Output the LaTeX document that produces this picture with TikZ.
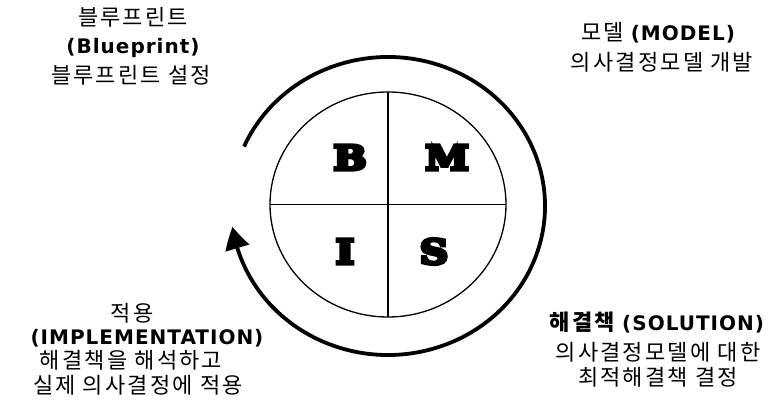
\documentclass[tikz,border=0pt]{standalone}
\usepackage{fontspec}
\setmainfont{Noto Sans CJK KR}[LetterSpace=10]
\newfontfamily\latb{DejaVu Sans}[LetterSpace=5]
\newfontfamily\bigser{DejaVu Serif Bold}[FakeBold=10]
\usetikzlibrary{arrows.meta,bending,calc}
\tikzset{
  kr/.style={inner sep=0pt, font=\fontsize{22}{24}\selectfont},
  letter/.style={inner sep=0pt, font=\bigser\fontsize{34}{38}\selectfont, xscale=1.15},
  cyc/.style={line width=3.8pt, -{Triangle[length=22pt,width=24pt,bend]}},
}
\newcommand{\lb}[1]{{\latb\bfseries\fontsize{20}{22}\selectfont #1}}
\begin{document}
\begin{tikzpicture}[x=1pt,y=1pt]
\useasboundingbox[fill=white] (0,0) rectangle (772,407);
% inner circle
\coordinate (c) at (388,202.5);
\draw[line width=1.3pt] (c) ellipse [x radius=118, y radius=112.5];
\coordinate (vt) at (388,315);
\coordinate (vb) at (388,90);
\coordinate (hl) at (270,202.5);
\coordinate (hr) at (506,202.5);
\draw[line width=1.3pt] (vt) -- (vb);
\draw[line width=1.3pt] (hl) -- (hr);
% letters
\node[letter] (B) at (350,249.5) {B};
\node[letter] (M) at (447,249.5) {M};
\node[letter] (I) at (345,155.5) {I};
\node[letter] (S) at (434,155.5) {S};
% cycle arrow
\coordinate (o) at (388,201);
\draw[cyc] ($(o)+(156.5:157 and 149)$) arc[start angle=156.5, end angle=-172, x radius=157, y radius=149];
% top-left
\node[kr] (tl1) at (133,390) {블루프린트};
\node[kr] (tl2) at (133,359) {\lb{(Blueprint)}};
\node[kr] (tl3) at (131,332) {블루프린트 설정};
% top-right
\node[kr] (tr1) at (658,374) {모델 \lb{(MODEL)}};
\node[kr] (tr2) at (662,345) {의사결정모델 개발};
% bottom-left
\node[kr] (bl1) at (132,94) {적용};
\node[kr] (bl2) at (147,69) {\lb{(IMPLEMENTATION)}};
\node[kr] (bl3) at (131,47) {해결책을 해석하고};
\node[kr] (bl4) at (138,22) {실제 의사결정에 적용};
% bottom-right
\node[kr] (br1) at (657,84) {{\bfseries 해결책} \lb{(SOLUTION)}};
\node[kr] (br2) at (658,55) {의사결정모델에 대한};
\node[kr] (br3) at (658,30) {최적해결책 결정};
\end{tikzpicture}
\end{document}
